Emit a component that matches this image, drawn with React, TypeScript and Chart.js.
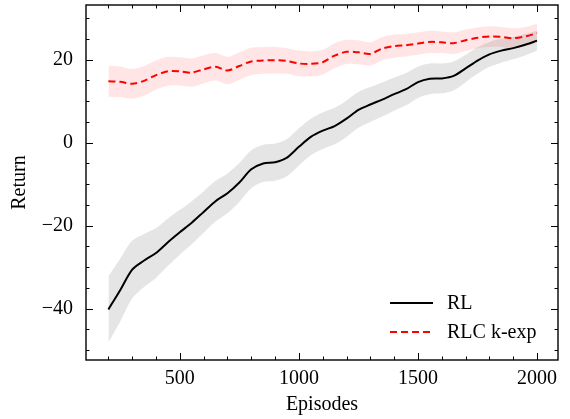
import React, { useEffect, useRef } from "react";
import { Chart, registerables } from "chart.js";

Chart.register(...registerables);

const episodes = [
  200, 250, 300, 350, 400, 450, 500, 550, 600, 650, 700, 750, 800, 850, 900, 950, 1000,
  1050, 1100, 1150, 1200, 1250, 1300, 1350, 1400, 1450, 1500, 1550, 1600, 1650, 1700,
  1750, 1800, 1850, 1900, 1950, 2000,
];

const rlMean = [
  -40.2, -35.5, -30.6, -28.4, -26.6, -24.0, -21.6, -19.3, -16.7, -14.1, -12.2, -9.6, -6.4,
  -5.0, -4.7, -3.6, -1.0, 1.4, 2.9, 4.0, 5.8, 7.9, 9.2, 10.4, 11.7, 12.9, 14.6, 15.4, 15.5,
  16.1, 17.9, 19.8, 21.3, 22.2, 22.8, 23.6, 24.6,
];

const rlStd = [
  8.0, 7.6, 7.0, 6.4, 6.0, 5.7, 5.4, 5.2, 5.0, 4.9, 4.8, 4.7, 4.6, 4.5, 4.5, 4.5, 4.5, 4.4,
  4.4, 4.4, 4.4, 4.3, 4.2, 4.1, 4.0, 3.9, 3.8, 3.7, 3.6, 3.5, 3.3, 3.2, 3.0, 2.9, 2.7, 2.6,
  2.4,
];

const rlcMean = [
  14.8, 14.7, 14.2, 14.9, 16.3, 17.2, 17.2, 16.9, 17.7, 18.3, 17.4, 18.5, 19.6, 19.8, 19.9,
  19.7, 19.1, 19.0, 19.4, 21.0, 21.9, 21.8, 21.4, 22.7, 23.3, 23.5, 23.9, 24.3, 24.2, 24.0,
  24.7, 25.3, 25.6, 25.5, 25.2, 25.6, 26.4,
];

const rlcStd = [
  3.7, 3.7, 3.6, 3.6, 3.5, 3.5, 3.4, 3.4, 3.4, 3.3, 3.3, 3.3, 3.3, 3.2, 3.2, 3.1, 3.1, 3.0,
  3.0, 3.0, 2.9, 2.9, 2.8, 2.8, 2.8, 2.7, 2.7, 2.7, 2.6, 2.6, 2.6, 2.5, 2.5, 2.4, 2.4, 2.3,
  2.3,
];

const xMajorTicks = [500, 1000, 1500, 2000];
const xMinorTicks = [200, 300, 400, 600, 700, 800, 900, 1100, 1200, 1300, 1400, 1600, 1700, 1800, 1900];
const yMajorTicks = [-40, -20, 0, 20];
const yMinorTicks = [-50, -45, -35, -30, -25, -15, -10, -5, 5, 10, 15, 25, 30];

const seriesLabels = ["RL", "RLC k-exp"];
const xTitle = "Episodes";
const yTitle = "Return";

const FONT_FAMILY = "'Liberation Serif', 'Times New Roman', Times, serif";
const RED_DASH = [7, 4];

function pts(xs: number[], ys: number[]) {
  return xs.map((x, i) => ({ x, y: ys[i] }));
}

const framePlugin = {
  id: "frameTicksLegend",
  afterDraw(chart: any) {
    const { ctx, chartArea: a, scales } = chart;
    const sx = scales.x;
    const sy = scales.y;
    ctx.save();
    ctx.strokeStyle = "#000";
    ctx.lineWidth = 1;
    const major = 7;
    const minor = 3.5;
    const drawX = (v: number, len: number) => {
      const p = Math.round(sx.getPixelForValue(v)) + 0.5;
      ctx.beginPath();
      ctx.moveTo(p, a.bottom);
      ctx.lineTo(p, a.bottom - len);
      ctx.moveTo(p, a.top);
      ctx.lineTo(p, a.top + len);
      ctx.stroke();
    };
    const drawY = (v: number, len: number) => {
      const p = Math.round(sy.getPixelForValue(v)) + 0.5;
      ctx.beginPath();
      ctx.moveTo(a.left, p);
      ctx.lineTo(a.left + len, p);
      ctx.moveTo(a.right, p);
      ctx.lineTo(a.right - len, p);
      ctx.stroke();
    };
    xMajorTicks.forEach((v) => drawX(v, major));
    xMinorTicks.forEach((v) => drawX(v, minor));
    yMajorTicks.forEach((v) => drawY(v, major));
    yMinorTicks.forEach((v) => drawY(v, minor));

    ctx.lineWidth = 1.4;
    ctx.strokeRect(a.left, a.top, a.right - a.left, a.bottom - a.top);

    // legend
    const x0 = a.right - 168;
    const x1 = a.right - 125;
    const tx = a.right - 111;
    const rows = [a.bottom - 57, a.bottom - 28];
    ctx.font = `20px ${FONT_FAMILY}`;
    ctx.textBaseline = "middle";
    ctx.textAlign = "left";
    ctx.fillStyle = "#000";
    seriesLabels.forEach((lab, i) => {
      const y = rows[i];
      ctx.beginPath();
      ctx.lineWidth = 2;
      ctx.strokeStyle = i === 0 ? "#000" : "#ff0000";
      ctx.setLineDash(i === 0 ? [] : RED_DASH);
      ctx.moveTo(x0, y);
      ctx.lineTo(x1, y);
      ctx.stroke();
      ctx.setLineDash([]);
      ctx.fillText(lab, tx, y + 1);
    });
    ctx.restore();
  },
};

export default function App() {
  const canvasRef = useRef<HTMLCanvasElement | null>(null);

  useEffect(() => {
    if (!canvasRef.current) return;
    const font = { family: FONT_FAMILY, size: 20 };
    const rlUpper = rlMean.map((m, i) => m + rlStd[i]);
    const rlLower = rlMean.map((m, i) => m - rlStd[i]);
    const rlcUpper = rlcMean.map((m, i) => m + rlcStd[i]);
    const rlcLower = rlcMean.map((m, i) => m - rlcStd[i]);

    const chart = new Chart(canvasRef.current, {
      type: "line",
      data: {
        datasets: [
          {
            label: seriesLabels[0],
            data: pts(episodes, rlMean),
            borderColor: "#000",
            borderWidth: 2,
            pointRadius: 0,
            tension: 0.3,
            fill: false,
            order: 0,
          },
          {
            label: seriesLabels[1],
            data: pts(episodes, rlcMean),
            borderColor: "#ff0000",
            borderWidth: 2,
            borderDash: RED_DASH,
            pointRadius: 0,
            tension: 0.3,
            fill: false,
            order: 0,
          },
          {
            label: "rl-upper",
            data: pts(episodes, rlUpper),
            borderWidth: 0,
            borderColor: "rgba(0,0,0,0)",
            backgroundColor: "rgba(0,0,0,0.1)",
            pointRadius: 0,
            tension: 0.3,
            fill: "+1",
            order: 5,
          },
          {
            label: "rl-lower",
            data: pts(episodes, rlLower),
            borderWidth: 0,
            borderColor: "rgba(0,0,0,0)",
            pointRadius: 0,
            tension: 0.3,
            fill: false,
            order: 5,
          },
          {
            label: "rlc-upper",
            data: pts(episodes, rlcUpper),
            borderWidth: 0,
            borderColor: "rgba(0,0,0,0)",
            backgroundColor: "rgba(255,0,0,0.1)",
            pointRadius: 0,
            tension: 0.3,
            fill: "+1",
            order: 5,
          },
          {
            label: "rlc-lower",
            data: pts(episodes, rlcLower),
            borderWidth: 0,
            borderColor: "rgba(0,0,0,0)",
            pointRadius: 0,
            tension: 0.3,
            fill: false,
            order: 5,
          },
        ],
      },
      options: {
        responsive: false,
        animation: false,
        events: [],
        layout: { padding: { top: 5, right: 12, left: 0, bottom: 0 } },
        plugins: { legend: { display: false }, tooltip: { enabled: false } },
        scales: {
          x: {
            type: "linear",
            min: 106,
            max: 2088,
            grid: { display: false, drawTicks: false },
            border: { display: false },
            afterBuildTicks: (s: any) => {
              s.ticks = xMajorTicks.map((v) => ({ value: v }));
            },
            afterFit: (s: any) => {
              s.height = 59;
              s.paddingLeft = 0;
              s.paddingRight = 0;
            },
            ticks: {
              padding: 7,
              color: "#000",
              font,
              maxRotation: 0,
              autoSkip: false,
              callback: (v: any) => String(v),
            },
            title: {
              display: true,
              text: xTitle,
              color: "#000",
              font,
              padding: { top: 0, bottom: 2 },
            },
          },
          y: {
            type: "linear",
            min: -52.4,
            max: 33.2,
            grid: { display: false, drawTicks: false },
            border: { display: false },
            afterBuildTicks: (s: any) => {
              s.ticks = yMajorTicks.map((v) => ({ value: v }));
            },
            afterFit: (s: any) => {
              s.width = 86;
              s.paddingTop = 0;
              s.paddingBottom = 0;
            },
            ticks: {
              padding: 13,
              color: "#000",
              font,
              autoSkip: false,
              callback: (v: any) => String(v).replace("-", "\u2212"),
            },
            title: {
              display: true,
              text: yTitle,
              color: "#000",
              font,
              padding: { top: 8, bottom: 0 },
            },
          },
        },
      },
      plugins: [framePlugin],
    });
    return () => chart.destroy();
  }, []);

  return (
    <div style={{ position: "absolute", left: 0, top: 0, width: 570, height: 419, background: "#fff" }}>
      <canvas ref={canvasRef} width={570} height={419} style={{ display: "block" }} />
    </div>
  );
}
